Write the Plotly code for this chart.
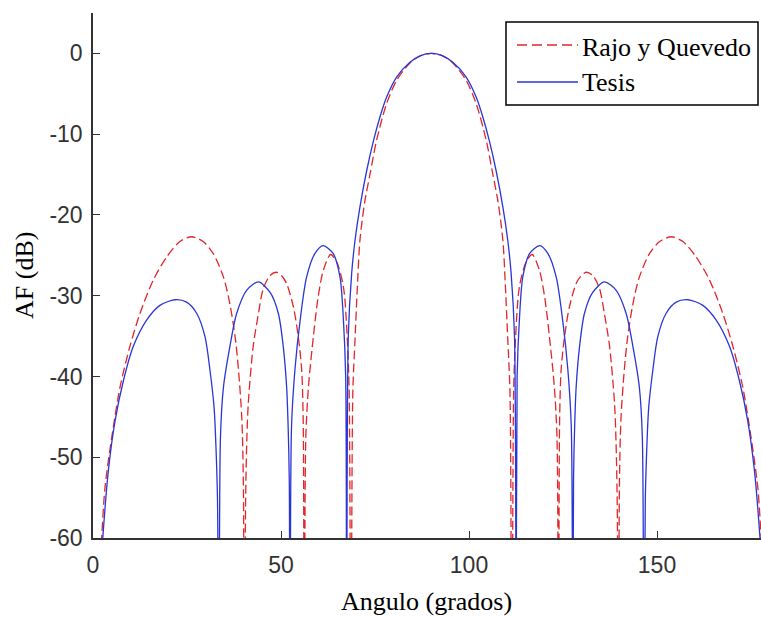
import plotly.graph_objects as go

# ---------------- data ----------------
angles_tesis = [0, 2.6, 4.1, 5.9, 8.1, 10.7, 14.3, 17.8, 21.8, 24.9, 27.6, 29.8, 31.1, 32.2, 32.7, 33.1,
                33.5, 33.9, 34.7, 36.4, 38.2, 40.9, 44.0, 47.1, 49.3, 50.6, 51.5, 51.9, 52.2, 52.4, 52.8,
                53.7, 55.1, 56.8, 59.0, 61.2, 63.9, 65.7, 66.6, 67.2, 67.45, 67.9, 68.8, 69.7, 71.0, 72.8,
                74.6, 76.3, 78.1, 80.8, 84.3, 87.0, 90.0,
                93.0, 95.7, 99.2, 101.9, 103.7, 105.4, 107.2, 109.0, 110.3, 111.2, 112.1, 112.55, 112.8,
                113.4, 114.3, 116.1, 118.8, 121.0, 123.2, 124.9, 126.3, 127.2, 127.6, 127.8, 128.1, 128.5,
                129.4, 130.7, 132.9, 136.0, 139.1, 141.8, 143.6, 145.3, 146.1, 146.5, 146.9, 147.3, 147.8,
                148.9, 150.2, 152.4, 155.1, 158.2, 162.2, 165.7, 169.3, 171.9, 174.1, 175.9, 177.4, 180]
af_tesis = [-80, -60, -51.6, -45.4, -40.5, -36.3, -33.0, -31.2, -30.5, -30.8, -32.2, -35.1, -39.2, -43.8, -48.7, -55,
            -80, -47.5, -41.3, -36.3, -32.2, -29.3, -28.3, -29.6, -32.2, -36.3, -41.3, -46.2, -52.8, -80, -46.2,
            -39.2, -33.0, -27.7, -24.8, -23.8, -24.8, -27.7, -33.0, -40.0, -80, -35.0, -27.2, -23.1, -19.0, -14.5,
            -10.8, -7.9, -5.4, -2.9, -1.1, -0.3, 0,
            -0.3, -1.1, -2.9, -5.4, -7.9, -10.8, -14.5, -19.0, -23.1, -27.2, -35.0, -80, -40.0,
            -33.0, -27.7, -24.8, -23.8, -24.8, -27.7, -33.0, -39.2, -46.2, -80, -52.8, -46.2, -41.3,
            -36.3, -32.2, -29.6, -28.3, -29.3, -32.2, -36.3, -41.3, -47.5, -80, -55, -48.7, -43.8,
            -39.2, -35.1, -32.2, -30.8, -30.5, -31.2, -33.0, -36.3, -40.5, -45.4, -51.6, -60, -80]

angles_rajo = [0, 2.3, 3.2, 5.0, 7.2, 9.8, 12.5, 16.0, 19.6, 23.1, 26.2, 29.3, 32.0, 34.7, 36.4, 37.8, 38.7,
               39.6, 40.0, 40.2, 40.6, 40.9, 41.3, 42.6, 44.0, 45.3, 47.1, 48.8, 50.3, 51.5, 53.3, 54.6, 55.5,
               55.9, 56.2, 56.6, 57.3, 58.6, 59.9, 61.3, 63.2, 64.8, 66.6, 67.6, 68.1, 68.6, 69.1, 69.7, 70.3,
               71.0, 72.3, 73.7, 75.4, 78.1, 80.8, 84.3, 87.0, 90.0,
               93.0, 95.7, 99.2, 101.9, 104.6, 106.3, 107.7, 109.0, 109.7, 110.3, 110.9, 111.4, 111.9, 112.4,
               113.4, 115.2, 116.8, 118.7, 120.1, 121.4, 122.7, 123.4, 123.8, 124.1, 124.5, 125.4, 126.7,
               128.5, 129.7, 131.2, 132.9, 134.7, 136.0, 137.4, 138.7, 139.1, 139.4, 139.8, 140.0, 140.4,
               141.3, 142.2, 143.6, 145.3, 148.0, 150.7, 153.8, 156.9, 160.4, 164.0, 167.5, 170.2, 172.8,
               175.0, 176.8, 177.7, 180]
af_rajo = [-80, -60, -53.7, -47.5, -41.3, -36.3, -32.2, -28.1, -25.2, -23.3, -22.7, -23.3, -24.8, -27.7, -31.0, -35.1, -39.2,
           -45.4, -53.7, -80, -55, -48, -43.3, -36.3, -32.2, -29.1, -27.5, -27.1, -27.6, -28.5, -31.4, -35.1, -39.2,
           -45.4, -80, -47.5, -41.3, -35.1, -30.1, -26.8, -24.9, -25.8, -28.9, -35.1, -41.3, -80, -42, -35.3, -29,
           -23.1, -18.3, -14.9, -10.8, -6.2, -3.3, -1.2, -0.3, 0,
           -0.3, -1.2, -3.3, -6.2, -10.8, -14.9, -18.3, -23.1, -29, -35.3, -42, -80, -41.3, -35.1,
           -28.9, -25.8, -24.9, -26.8, -30.1, -35.1, -41.3, -47.5, -80, -45.4, -39.2, -35.1, -31.4,
           -28.5, -27.6, -27.1, -27.5, -29.1, -32.2, -36.3, -43.3, -48, -55, -80, -53.7, -45.4,
           -39.2, -35.1, -31.0, -27.7, -24.8, -23.3, -22.7, -23.3, -25.2, -28.1, -32.2, -36.3, -41.3,
           -47.5, -53.7, -60, -80]

series_names = ["Rajo y Quevedo", "Tesis"]
x_ticks = [0, 50, 100, 150]
x_ticktext = ["0", "50", "100", "150"]
y_ticks = [0, -10, -20, -30, -40, -50, -60]
y_ticktext = ["0", "-10", "-20", "-30", "-40", "-50", "-60"]
x_title = "Angulo (grados)"
y_title = "AF (dB)"

RED = "#e3262a"
BLUE = "#2a35d6"
SERIF = "Liberation Serif, Times New Roman, serif"
SANS = "Liberation Sans, Arial, sans-serif"

W, H = 761, 617
L, R, T, B = 93, 0, 13, 79

fig = go.Figure()
fig.add_trace(go.Scatter(x=angles_rajo, y=af_rajo, mode="lines", name=series_names[0],
                         line=dict(color=RED, width=1.3, dash="9px,4px", shape="spline", smoothing=0.8),
                         showlegend=False))
fig.add_trace(go.Scatter(x=angles_tesis, y=af_tesis, mode="lines", name=series_names[1],
                         line=dict(color=BLUE, width=1.3, shape="spline", smoothing=0.8),
                         showlegend=False))

# plot-area pixel helpers for legend box and titles
pw, ph = W - L - R, H - T - B
def px(x):
    return (x - L) / pw
def py(y):
    return (H - B - y) / ph

shapes = [
    dict(type="rect", xref="paper", yref="paper", x0=px(506), x1=px(758), y0=py(105), y1=py(22),
         line=dict(color="black", width=1.5), fillcolor="white", layer="above"),
    dict(type="line", xref="paper", yref="paper", x0=px(517), x1=px(578), y0=py(45), y1=py(45),
         line=dict(color=RED, width=1.3, dash="10px,5px"), layer="above"),
    dict(type="line", xref="paper", yref="paper", x0=px(517), x1=px(578), y0=py(82), y1=py(82),
         line=dict(color=BLUE, width=1.3), layer="above"),
]
annotations = [
    dict(xref="paper", yref="paper", x=px(580), y=py(47), text=series_names[0], showarrow=False,
         xanchor="left", yanchor="middle", font=dict(family=SERIF, size=26, color="black")),
    dict(xref="paper", yref="paper", x=px(580), y=py(83), text=series_names[1], showarrow=False,
         xanchor="left", yanchor="middle", font=dict(family=SERIF, size=26, color="black")),
    dict(xref="paper", yref="paper", x=px(426), y=py(601), text=x_title, showarrow=False,
         xanchor="center", yanchor="middle", font=dict(family=SERIF, size=26, color="black")),
    dict(xref="paper", yref="paper", x=px(24), y=py(276), text=y_title, showarrow=False, textangle=-90,
         xanchor="center", yanchor="middle", font=dict(family=SERIF, size=26, color="black")),
]

fig.update_layout(
    width=W, height=H,
    margin=dict(l=L, r=R, t=T, b=B, pad=0),
    paper_bgcolor="white", plot_bgcolor="white",
    showlegend=False,
    shapes=shapes, annotations=annotations,
    xaxis=dict(range=[0, 177.66], tickvals=x_ticks, ticktext=x_ticktext, ticks="inside", ticklen=7,
               tickwidth=1, tickcolor="#333", showline=True, linecolor="#333", linewidth=1.5,
               showgrid=False, zeroline=False, tickfont=dict(family=SANS, size=23, color="#333"),
               ticklabelstandoff=6),
    yaxis=dict(range=[-60, 5], tickvals=y_ticks, ticktext=y_ticktext, ticks="inside", ticklen=7,
               tickwidth=1, tickcolor="#333", showline=True, linecolor="#333", linewidth=1.5,
               showgrid=False, zeroline=False, tickfont=dict(family=SANS, size=23, color="#333"),
               ticklabelstandoff=4),
)

fig.write_html("out.html")
